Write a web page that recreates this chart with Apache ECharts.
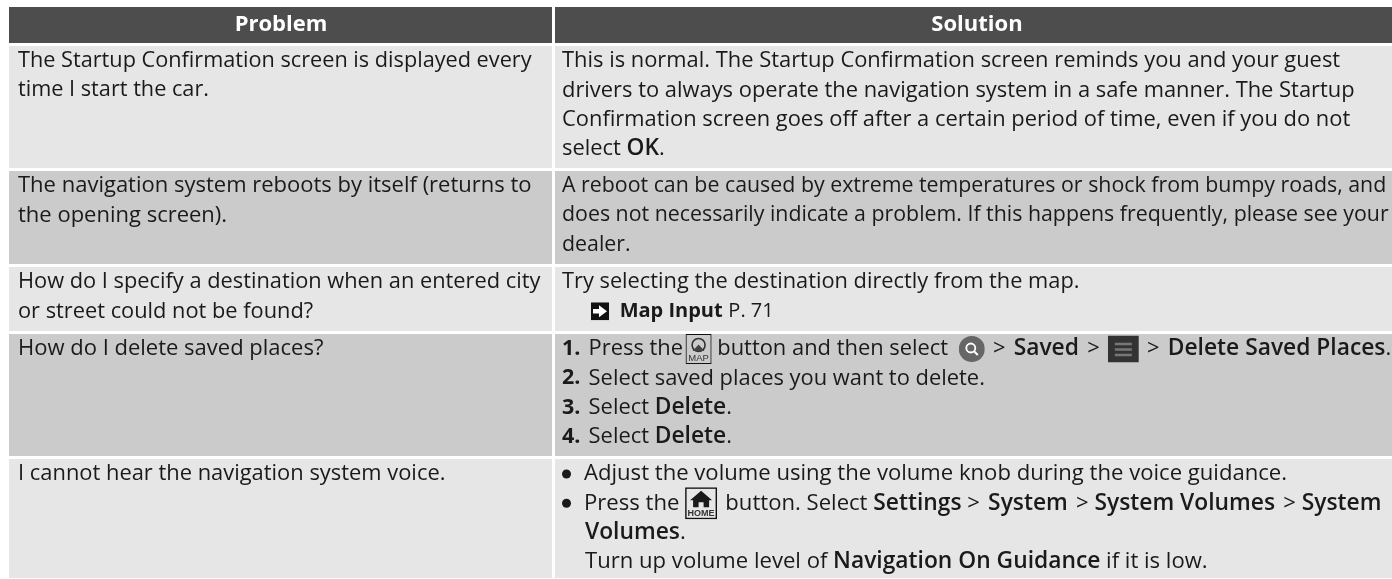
<!DOCTYPE html>
<html>
<head>
<meta charset="utf-8">
<style>
  html, body { margin: 0; padding: 0; background: #fff; }
  #chart { width: 1392px; height: 579px; }
</style>
<script src="https://cdn.jsdelivr.net/npm/echarts@6/dist/echarts.min.js"></script>
</head>
<body>
<div id="chart"></div>
<script>
const columns = ['Problem', 'Solution']

// one string per printed line, {b|..} is the bold run, {map| } etc are the button icons
const problems = [
  ['The Startup Confirmation screen is displayed every', 'time I start the car.'],
  ['The navigation system reboots by itself (returns to', 'the opening screen).'],
  ['How do I specify a destination when an entered city', 'or street could not be found?'],
  ['How do I delete saved places?'],
  ['I cannot hear the navigation system voice.']
]

const solutions = [
  [
    'This is normal. The Startup Confirmation screen reminds you and your guest',
    'drivers to always operate the navigation system in a safe manner. The Startup',
    'Confirmation screen goes off after a certain period of time, even if you do not',
    'select {m|OK}.'
  ],
  [
    'A reboot can be caused by extreme temperatures or shock from bumpy roads, and',
    'does not necessarily indicate a problem. If this happens frequently, please see your',
    'dealer.'
  ],
  [
    'Try selecting the destination directly from the map.',
    '{a| }{arrow| }{g| }{g| } {b|Map Input} {p|P. 71}'
  ],
  [
    '{q|1.}{g| } Press the{g| }{map| } button and then select {g| }{g| }{search| }{g| } >{g| } {m|Saved}{g| } >{g| } {menu| }{g| } >{g| } {m|Delete Saved Places}.',
    '{q|2.}{g| } Select saved places you want to delete.',
    '{q|3.}{g| } Select {m|Delete}.',
    '{q|4.}{g| } Select {m|Delete}.'
  ],
  [
    '{dot| }{n| }Adjust the volume using the volume knob during the voice guidance.',
    '{dot| }{n| }Press the {home| }{g| } button. Select {m|Settings} >{g| } {m|System} {g| }> {m|System Volumes} {g| }> {m|System}',
    '{i| }{m|Volumes}.',
    '{i| }Turn up volume level of {m|Navigation On Guidance} if it is low.'
  ]
]

// layout in page pixels
const colEdges = [[9, 552], [555, 1392]]
const headerCenters = [281, 977]
const headerBand = [7, 43]
const rowBands = [[46, 168], [171, 264], [267, 331], [334, 456], [459, 578]]
const lineStep = 29.3
const firstLine = 15
const textInset = [9, 7]
const fontName = '"Open Sans", "Noto Sans", sans-serif'
const problemFonts = [21.7, 22, 21.8, 22, 21.9]
const solutionFonts = [21.9, 21.35, 21.8, 21.9, 22.1]

const svgUri = s => 'data:image/svg+xml;charset=utf-8,' + encodeURIComponent(s)

const icons = {
  map: svgUri('<svg xmlns="http://www.w3.org/2000/svg" width="26" height="30" viewBox="0 0 26 30"><rect x="0.5" y="0.5" width="25" height="29" fill="none" stroke="#111"/><circle cx="13" cy="11" r="6.5" fill="none" stroke="#333" stroke-width="1.6"/><path d="M7 17 L13 10.5 L19 17 Z" fill="#444"/><text x="13" y="27" font-size="9.5" font-family="Liberation Sans,Arial" text-anchor="middle" fill="#333">MAP</text></svg>'),
  home: svgUri('<svg xmlns="http://www.w3.org/2000/svg" width="32" height="32" viewBox="0 0 32 32"><rect x="0.75" y="0.75" width="30.5" height="30.5" fill="none" stroke="#111" stroke-width="1.5"/><path d="M16 3.5 L27 13 L24 13 L24 20 L18.5 20 L18.5 15 L13.5 15 L13.5 20 L8 20 L8 13 L5 13 Z" fill="#1a1a1a"/><text x="16" y="28.5" font-size="9" font-weight="bold" font-family="Liberation Sans,Arial" text-anchor="middle" fill="#333">HOME</text></svg>'),
  search: svgUri('<svg xmlns="http://www.w3.org/2000/svg" width="26" height="26" viewBox="0 0 26 26"><circle cx="13" cy="13" r="13" fill="#666"/><circle cx="12" cy="12" r="4.5" fill="none" stroke="#fff" stroke-width="1.8"/><path d="M15.5 15.5 L19 19" stroke="#fff" stroke-width="2"/></svg>'),
  menu: svgUri('<svg xmlns="http://www.w3.org/2000/svg" width="31" height="27" viewBox="0 0 31 27"><rect width="31" height="27" fill="#333"/><path d="M7 8.5 H24 M7 14 H24 M7 19.5 H24" stroke="#777" stroke-width="2.5"/></svg>'),
  arrow: svgUri('<svg xmlns="http://www.w3.org/2000/svg" width="18" height="18" viewBox="0 0 18 18"><rect width="18" height="18" fill="#111"/><path d="M2 6.8 H8 V3 L16 9 L8 15 V11.2 H2 Z" fill="#fff"/></svg>')
}

const richStyles = {
  b: { fontWeight: 700, fontFamily: fontName, fontSize: 20, fill: '#1a1a1a' },
  q: { fontWeight: 700, fontFamily: fontName, fontSize: 21.5, fill: '#1a1a1a' },
  m: { fontWeight: 600, fontFamily: fontName, fontSize: 22.8, fill: '#1a1a1a' },
  p: { fontFamily: fontName, fontSize: 20, fill: '#1a1a1a' },
  g: { width: 2.5 },
  n: { width: 13 },
  i: { width: 23 },
  a: { width: 29 },
  map: { width: 26, height: 30, backgroundColor: { image: icons.map } },
  home: { width: 32, height: 32, backgroundColor: { image: icons.home } },
  search: { width: 26, height: 26, backgroundColor: { image: icons.search } },
  menu: { width: 31, height: 27, backgroundColor: { image: icons.menu } },
  arrow: { width: 18, height: 18, backgroundColor: { image: icons.arrow } },
  dot: { width: 9, height: 9, borderRadius: 5, backgroundColor: '#1a1a1a' }
}

const cells = []
columns.forEach((c, col) => {
  cells.push({ value: [col, -1], lines: [c], header: true })
  problems.forEach((_, row) => {
    cells.push({ value: [col, row], lines: col === 0 ? problems[row] : solutions[row] })
  })
})

function renderCell(params, api) {
  const cell = cells[params.dataIndex]
  const col = api.value(0)
  const row = api.value(1)
  const band = cell.header ? headerBand : rowBands[row]
  const tl = api.coord([colEdges[col][0], band[0]])
  const br = api.coord([colEdges[col][1], band[1]])
  const children = [{
    type: 'rect',
    shape: { x: tl[0], y: tl[1], width: br[0] - tl[0], height: br[1] - tl[1] },
    style: { fill: cell.header ? '#4d4d4d' : (row % 2 ? '#cbcbcb' : '#e6e6e6') }
  }]
  const size = col === 0 ? problemFonts[row] : solutionFonts[row]
  cell.lines.forEach((line, i) => {
    children.push({
      type: 'text',
      style: cell.header ? {
        text: line,
        x: headerCenters[col],
        y: (tl[1] + br[1]) / 2,
        align: 'center',
        verticalAlign: 'middle',
        fill: '#fff',
        font: '700 22px ' + fontName
      } : {
        text: line,
        x: tl[0] + textInset[col],
        y: tl[1] + firstLine + i * lineStep,
        align: 'left',
        verticalAlign: 'middle',
        fill: '#1a1a1a',
        font: '400 ' + size + 'px ' + fontName,
        rich: richStyles
      }
    })
  })
  return { type: 'group', children }
}

const chart = echarts.init(document.getElementById('chart'), null, { renderer: 'canvas' })

chart.setOption({
  animation: false,
  backgroundColor: '#fff',
  grid: { left: 0, right: 0, top: 0, bottom: 0 },
  xAxis: { type: 'value', min: 0, max: 1392, show: false },
  yAxis: { type: 'value', min: 0, max: 579, inverse: true, show: false },
  series: [{
    type: 'custom',
    coordinateSystem: 'cartesian2d',
    silent: true,
    clip: false,
    data: cells,
    encode: { x: 0, y: 1 },
    renderItem: renderCell
  }]
})
</script>
</body>
</html>
